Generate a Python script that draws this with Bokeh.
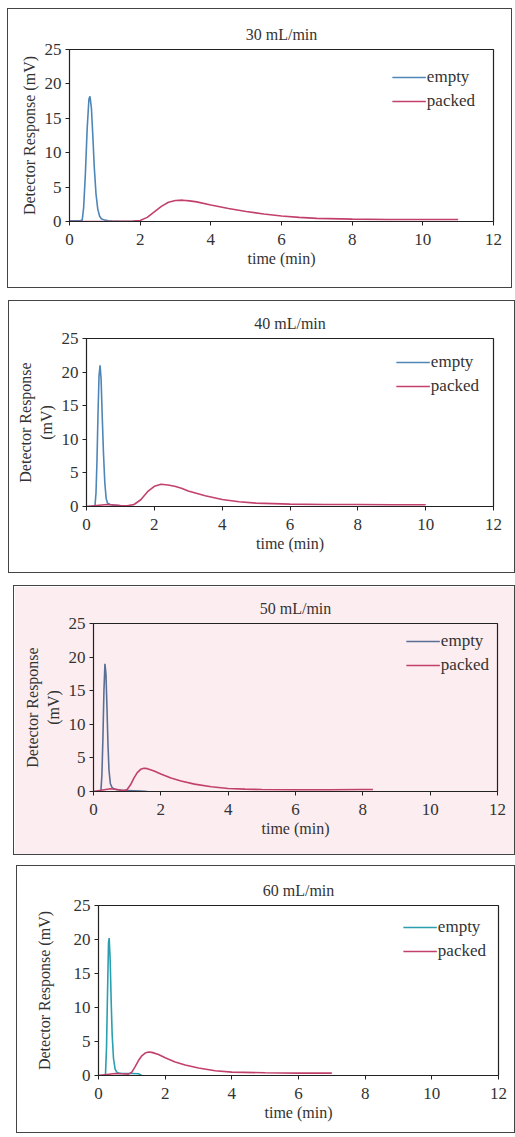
from bokeh.plotting import figure
from bokeh.layouts import column
from bokeh.models import Spacer, Range1d, FixedTicker, Legend, LegendItem
from bokeh.embed import file_html
from bokeh.resources import INLINE

# ---- data ----
titles = ["30 mL/min", "40 mL/min", "50 mL/min", "60 mL/min"]
ylabels = ["Detector Response (mV)", "Detector Response\n(mV)",
           "Detector Response\n(mV)", "Detector Response (mV)"]
x_ticks = [0, 2, 4, 6, 8, 10, 12]
y_ticks = [0, 5, 10, 15, 20, 25]

t_empty_30 = [0, 0.1, 0.2, 0.3, 0.36, 0.40, 0.45, 0.50, 0.55, 0.58, 0.62, 0.66, 0.70, 0.75, 0.80, 0.85, 0.90, 1.0, 1.1, 1.2, 1.4, 1.6, 1.8, 2.0]
y_empty_30 = [0.1, 0.1, 0.1, 0.1, 0.2, 2, 7, 13.5, 17.8, 18.2, 16.5, 12.5, 8, 4, 1.8, 0.8, 0.4, 0.2, 0.1, 0.05, 0.02, 0, 0, 0]
t_packed_30 = [0, 1.0, 1.8, 2.0, 2.2, 2.4, 2.6, 2.8, 3.0, 3.2, 3.4, 3.6, 4.0, 4.5, 5.0, 5.5, 6.0, 6.5, 7.0, 8.0, 9.0, 10.0, 11.0]
y_packed_30 = [0, 0, 0.05, 0.15, 0.6, 1.4, 2.2, 2.8, 3.05, 3.1, 3.0, 2.85, 2.4, 1.9, 1.45, 1.1, 0.8, 0.6, 0.45, 0.35, 0.3, 0.3, 0.3]

t_empty_40 = [0, 0.1, 0.2, 0.25, 0.28, 0.31, 0.34, 0.37, 0.40, 0.43, 0.46, 0.50, 0.54, 0.58, 0.62, 0.70, 0.80, 1.0, 1.2, 1.4]
y_empty_40 = [0, 0, 0, 0.1, 2, 7, 14, 19.5, 21, 19, 14, 8, 3.5, 1.2, 0.5, 0.3, 0.2, 0.1, 0.05, 0]
t_packed_40 = [0, 0.6, 1.0, 1.2, 1.4, 1.6, 1.8, 2.0, 2.2, 2.4, 2.6, 2.8, 3.0, 3.5, 4.0, 4.5, 5.0, 6.0, 7.0, 8.0, 9.0, 10.0]
y_packed_40 = [0, 0.3, 0.15, 0.1, 0.3, 1.0, 2.2, 3.0, 3.3, 3.2, 3.0, 2.7, 2.3, 1.6, 1.05, 0.7, 0.5, 0.35, 0.3, 0.3, 0.25, 0.25]

t_empty_50 = [0, 0.1, 0.18, 0.22, 0.25, 0.28, 0.31, 0.34, 0.37, 0.40, 0.43, 0.46, 0.50, 0.55, 0.60, 0.70, 0.80, 1.0, 1.2, 1.4, 1.6]
y_empty_50 = [0, 0, 0, 0.1, 2.5, 8, 15, 19, 17.5, 12.5, 7, 3.2, 1.2, 0.6, 0.4, 0.25, 0.2, 0.15, 0.1, 0.05, 0]
t_packed_50 = [0, 0.5, 0.7, 0.9, 1.0, 1.1, 1.2, 1.3, 1.4, 1.5, 1.6, 1.8, 2.0, 2.3, 2.6, 3.0, 3.5, 4.0, 4.5, 5.0, 6.0, 7.0, 8.0, 8.3]
y_packed_50 = [0, 0.4, 0.3, 0.1, 0.3, 1.0, 2.0, 2.8, 3.3, 3.45, 3.4, 3.05, 2.6, 2.0, 1.55, 1.1, 0.7, 0.45, 0.35, 0.3, 0.25, 0.25, 0.3, 0.3]

t_empty_60 = [0, 0.1, 0.18, 0.21, 0.24, 0.27, 0.30, 0.32, 0.35, 0.38, 0.41, 0.45, 0.50, 0.55, 0.60, 0.70, 0.80, 1.0, 1.2, 1.3]
y_empty_60 = [0, 0, 0, 0.2, 4, 12, 19.5, 20.2, 17, 11, 6, 2.5, 0.9, 0.5, 0.35, 0.3, 0.3, 0.3, 0.25, 0]
t_packed_60 = [0, 0.5, 0.7, 0.9, 1.0, 1.1, 1.2, 1.3, 1.4, 1.5, 1.6, 1.8, 2.0, 2.3, 2.6, 3.0, 3.5, 4.0, 5.0, 6.0, 7.0]
y_packed_60 = [0, 0.3, 0.25, 0.2, 0.5, 1.3, 2.2, 2.9, 3.3, 3.45, 3.4, 3.1, 2.6, 2.0, 1.55, 1.1, 0.7, 0.5, 0.4, 0.35, 0.35]

series = [
    (t_empty_30, y_empty_30, t_packed_30, y_packed_30),
    (t_empty_40, y_empty_40, t_packed_40, y_packed_40),
    (t_empty_50, y_empty_50, t_packed_50, y_packed_50),
    (t_empty_60, y_empty_60, t_packed_60, y_packed_60),
]
empty_colors = ["#4f86b8", "#4f86b8", "#5a6f95", "#2a9fb0"]
packed_color = "#c2416b"
bg_colors = ["white", "white", "#fcedf0", "white"]

# per panel: left offset, width, height, border left, right, top, bottom,
# y-label standoff, legend margin
layouts = [
    (7, 505, 280, 61, 20, 40, 68, 4, 12),
    (8, 507, 273, 77, 23, 37, 68, 4, 8),
    (13, 502, 270, 79, 19, 37, 65, 4, 2),
    (16, 499, 268, 81, 18, 39, 59, 18, 6),
]

FONT = "Liberation Serif"
TXT = "#333333"


def make_panel(i):
    te, ye, tp, yp = series[i]
    off, w, h, bl, br, bt, bb, ylst, lm = layouts[i]
    p = figure(width=w, height=h, output_backend="svg", toolbar_location=None,
               x_range=Range1d(0, 12), y_range=Range1d(0, 25),
               min_border_left=bl, min_border_right=br,
               min_border_top=bt, min_border_bottom=bb,
               title=titles[i])
    p.frame_align = False
    p.margin = (0, 0, 0, off)
    p.styles = {"border": "1px solid #444", "box-sizing": "border-box"}
    p.background_fill_color = bg_colors[i]
    p.border_fill_color = bg_colors[i]
    p.title.align = "center"
    p.title.text_font = FONT
    p.title.text_font_size = "16px"
    p.title.text_font_style = "normal"
    p.title.text_color = TXT
    p.title.standoff = 14
    p.xgrid.visible = False
    p.ygrid.visible = False
    p.outline_line_color = "#222222"
    p.outline_line_width = 1.2
    for ax in (p.xaxis[0], p.yaxis[0]):
        ax.major_label_text_font = FONT
        ax.major_label_text_font_size = "17px"
        ax.major_label_text_color = TXT
        ax.axis_label_text_font = FONT
        ax.axis_label_text_font_size = "16px"
        ax.axis_label_text_font_style = "normal"
        ax.axis_label_text_color = TXT
        ax.minor_tick_line_color = None
        ax.major_tick_in = 0
        ax.major_tick_out = 4
        ax.axis_line_color = "#222222"
        ax.major_tick_line_color = "#222222"
    p.xaxis.ticker = FixedTicker(ticks=x_ticks)
    p.yaxis.ticker = FixedTicker(ticks=y_ticks)
    p.xaxis.axis_label = "time (min)"
    p.xaxis.axis_label_standoff = 2
    p.xaxis.major_label_standoff = 8
    p.yaxis.axis_label = ylabels[i]
    p.yaxis.major_label_standoff = 4
    p.yaxis.axis_label_standoff = ylst
    r1 = p.line(te, ye, line_color=empty_colors[i], line_width=1.6)
    r2 = p.line(tp, yp, line_color=packed_color, line_width=1.6)
    leg = Legend(items=[LegendItem(label="empty", renderers=[r1]),
                        LegendItem(label="packed", renderers=[r2])],
                 location="top_right")
    leg.background_fill_alpha = 0
    leg.border_line_alpha = 0
    leg.label_text_font = FONT
    leg.label_text_font_size = "17px"
    leg.label_text_color = TXT
    leg.glyph_width = 34
    leg.label_standoff = 1
    leg.spacing = 4
    leg.margin = lm
    leg.padding = 6
    p.add_layout(leg)
    return p


panels = [make_panel(i) for i in range(4)]
layout = column(Spacer(height=8), panels[0], Spacer(height=12), panels[1], Spacer(height=12),
                panels[2], Spacer(height=10), panels[3])

open("out.html", "w").write(file_html(layout, INLINE))
